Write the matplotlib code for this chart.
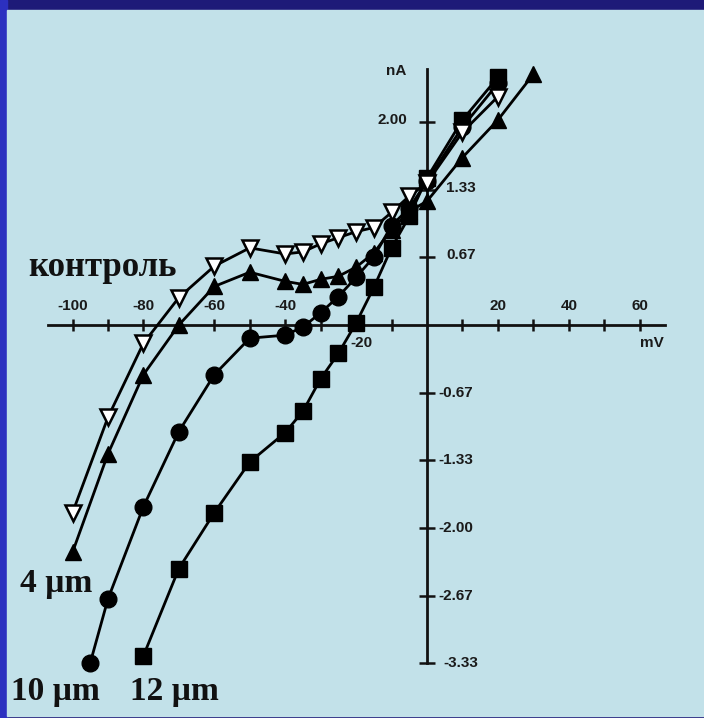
import matplotlib
matplotlib.use('Agg')
import matplotlib.pyplot as plt
from matplotlib.patches import Rectangle

# I-V curves, mV vs nA
ctrl_x = [-100, -90, -80, -70, -60, -50, -40, -35, -30, -25, -20, -15, -10, -5, 0, 10, 20]
ctrl_y = [-1.85, -0.91, -0.18, 0.27, 0.58, 0.76, 0.70, 0.72, 0.80, 0.86, 0.92, 0.96, 1.11, 1.27, 1.40, 1.90, 2.25]

um4_x = [-100, -90, -80, -70, -60, -50, -40, -35, -30, -25, -20, -15, -10, -5, 0, 10, 20, 30]
um4_y = [-2.24, -1.27, -0.49, 0.0, 0.38, 0.52, 0.43, 0.40, 0.45, 0.48, 0.57, 0.71, 0.94, 1.12, 1.22, 1.65, 2.02, 2.47]

um10_x = [-95, -90, -80, -70, -60, -50, -40, -35, -30, -25, -20, -15, -10, -5, 0, 10, 20]
um10_y = [-3.33, -2.70, -1.79, -1.05, -0.49, -0.13, -0.10, -0.02, 0.12, 0.28, 0.47, 0.67, 0.98, 1.15, 1.42, 1.95, 2.38]

um12_x = [-80, -70, -60, -50, -40, -35, -30, -25, -20, -15, -10, -5, 0, 10, 20]
um12_y = [-3.26, -2.40, -1.85, -1.35, -1.06, -0.85, -0.53, -0.28, 0.02, 0.37, 0.76, 1.07, 1.45, 2.02, 2.44]

xticks = [-100, -90, -80, -70, -60, -50, -40, -30, -20, -10, 10, 20, 30, 40, 50, 60]
xlabels_up = [-100, -80, -60, -40, 20, 40, 60]
yticks = [-3.33, -2.67, -2.00, -1.33, -0.67, 0.67, 1.33, 2.00]
ylabels = ['-3.33', '-2.67', '-2.00', '-1.33', '-0.67', '0.67', '1.33', '2.00']

W, H = 704, 718
fig = plt.figure(figsize=(W / 100, H / 100), dpi=100)
fig.patch.set_facecolor('#1e1a78')
# brighter blue strip on the left, light panel
fig.patches.append(Rectangle((0, 0), 7 / W, 1, transform=fig.transFigure, color='#2c30c0', zorder=-10))
fig.patches.append(Rectangle((7 / W, 2 / H), (W - 7) / W, (H - 12) / H, transform=fig.transFigure,
                             color='#c2e1e9', zorder=-10))

ax = fig.add_axes([0, 0, 1, 1])
ax.set_zorder(1)
ax.patch.set_visible(False)
ox, oy, sx, sy = 427, 325, 3.545, 101.5
ax.set_xlim(-ox / sx, (W - ox) / sx)
ax.set_ylim((oy - H) / sy, oy / sy)

for s in ['top', 'right']:
    ax.spines[s].set_visible(False)
ax.spines['left'].set_position('zero')
ax.spines['bottom'].set_position('zero')
ax.spines['left'].set_bounds(-3.33, 2.52)
ax.spines['bottom'].set_bounds(-106.8, 67)
for s in ['left', 'bottom']:
    ax.spines[s].set_linewidth(2.0)
    ax.spines[s].set_color('#111111')

ax.set_xticks(xticks)
ax.set_xticklabels([''] * len(xticks))
ax.set_yticks(yticks)
ax.set_yticklabels([''] * len(yticks))
ax.tick_params(axis='x', direction='inout', length=8, width=1.8, color='#111111')
ax.tick_params(axis='y', direction='inout', length=12, width=1.8, color='#111111')

tfont = dict(family=['Liberation Sans', 'DejaVu Sans'], fontsize=11, fontweight='bold', color='#1a1a1a')
for v in xlabels_up:
    ax.annotate(str(v), (v, 0), xytext=(0, 19), textcoords='offset pixels', ha='center', va='center', **tfont)
ax.annotate('-20', (-20, 0), xytext=(5, -18), textcoords='offset pixels', ha='center', va='center', **tfont)
ax.annotate('mV', (0, 0), xytext=(225, -18), textcoords='offset pixels', ha='center', va='center', **tfont)
ax.annotate('nA', (0, 2.5), xytext=(-31, 0), textcoords='offset pixels', ha='center', va='center', **tfont)

for v, lab in zip(yticks, ylabels):
    if v == 2.00:
        dx = -35
    elif v > 0:
        dx = 34
    elif v == -3.33:
        dx = 34
    else:
        dx = 29
    ax.annotate(lab, (0, v), xytext=(dx, 2 if v > 0 else 0), textcoords='offset pixels',
                ha='center', va='center', **tfont)

lk = dict(color='black', linewidth=2.0, markeredgecolor='black', clip_on=False)
ax.plot(um12_x, um12_y, marker='s', markersize=12, markerfacecolor='black', zorder=3, **lk)
ax.plot(um10_x, um10_y, marker='o', markersize=12, markerfacecolor='black', zorder=4, **lk)
ax.plot(um4_x, um4_y, marker='^', markersize=11, markerfacecolor='black', zorder=5, **lk)
ax.plot(ctrl_x, ctrl_y, marker='v', markersize=11, markerfacecolor='white', markeredgewidth=1.8,
        zorder=6, **lk)

sfont = dict(family=['Liberation Serif', 'DejaVu Serif'], fontweight='bold', color='#111111')
fig.text(28 / W, 1 - 276 / H, 'контроль', fontsize=25, ha='left', va='baseline', **sfont)
fig.text(20 / W, 1 - 592 / H, '4 \u00b5m', fontsize=24, ha='left', va='baseline', **sfont)
fig.text(11 / W, 1 - 700 / H, '10 \u00b5m', fontsize=24, ha='left', va='baseline', **sfont)
fig.text(130 / W, 1 - 700 / H, '12 \u00b5m', fontsize=24, ha='left', va='baseline', **sfont)

fig.savefig('out.png', dpi=100, facecolor=fig.get_facecolor())
